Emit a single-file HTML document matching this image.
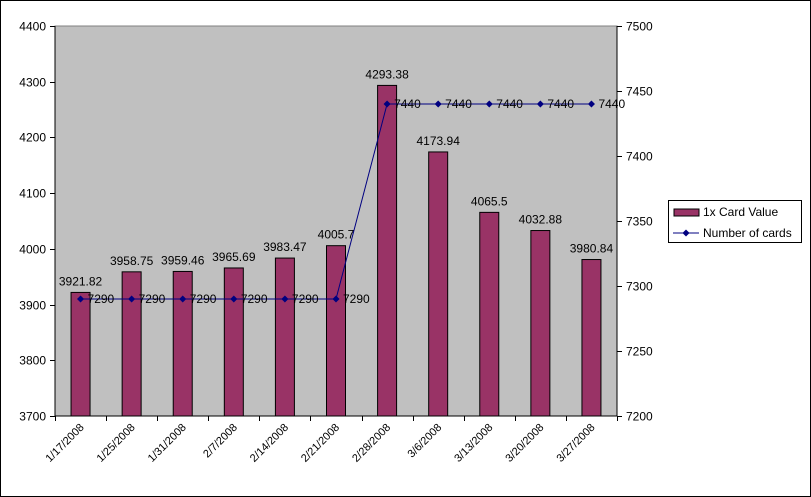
<!DOCTYPE html>
<html><head><meta charset="utf-8"><style>
html,body{margin:0;padding:0;background:#fff}
svg{display:block;font-family:"Liberation Sans",Arial,sans-serif}
</style></head><body>
<svg id="chart" width="811" height="497" viewBox="0 0 811 497" xmlns="http://www.w3.org/2000/svg">
<rect x="0.5" y="0.5" width="810" height="496" fill="#fff" stroke="#000"/>
<rect x="55" y="26" width="562" height="390" fill="#c0c0c0" stroke="#808080"/>
<g id="marks"></g>
<g>
<rect x="668.5" y="200.5" width="133" height="42" fill="#fff" stroke="#000"/>
<rect x="674" y="209" width="25" height="7" fill="#993366" stroke="#000"/>
<text x="703" y="216" font-size="12">1x Card Value</text>
<line x1="673" y1="233" x2="699" y2="233" stroke="#000080"/>
<rect x="683.5" y="230.5" width="5" height="5" fill="#000080" transform="rotate(45 686 233)"/>
<text x="703" y="237" font-size="12">Number of cards</text>
</g>
</svg>
<script>
const categories=["1/17/2008","1/25/2008","1/31/2008","2/7/2008","2/14/2008","2/21/2008","2/28/2008","3/6/2008","3/13/2008","3/20/2008","3/27/2008"];
const cardValues=[3921.82,3958.75,3959.46,3965.69,3983.47,4005.7,4293.38,4173.94,4065.5,4032.88,3980.84];
const cardLabels=["3921.82","3958.75","3959.46","3965.69","3983.47","4005.7","4293.38","4173.94","4065.5","4032.88","3980.84"];
const cardCounts=[7290,7290,7290,7290,7290,7290,7440,7440,7440,7440,7440];
const leftTicks=[3700,3800,3900,4000,4100,4200,4300,4400];
const rightTicks=[7200,7250,7300,7350,7400,7450,7500];
const X0=55,X1=617,YT=26,YB=416;
const step=(X1-X0)/categories.length;
const xc=i=>X0+step*(i+0.5);
const yL=v=>YB-(v-3700)/(4400-3700)*(YB-YT);
const yR=v=>YB-(v-7200)/(7500-7200)*(YB-YT);
const NS="http://www.w3.org/2000/svg";
const g=document.getElementById('marks');
function mk(t,a,txt){const e=document.createElementNS(NS,t);for(const k in a)e.setAttribute(k,a[k]);if(txt!==undefined)e.textContent=txt;g.appendChild(e);return e;}
// axes
let e=mk('line',{x1:X0,y1:YT,x2:X0,y2:YB,stroke:'#000'});


e=mk('line',{x1:X1,y1:YT,x2:X1,y2:YB,stroke:'#000'});


e=mk('line',{x1:X0,y1:YB,x2:X1,y2:YB,stroke:'#000'});


leftTicks.forEach(v=>{const y=Math.round(yL(v))+0.5;mk('line',{x1:X0-5,y1:y,x2:X0,y2:y,stroke:'#000'});
e=mk('text',{x:X0-9,y:y+4,'font-size':12,'text-anchor':'end'},String(v));

});
rightTicks.forEach(v=>{const y=Math.round(yR(v))+0.5;mk('line',{x1:X1,y1:y,x2:X1+5,y2:y,stroke:'#000'});
e=mk('text',{x:X1+9,y:y+4,'font-size':12},String(v));

});
for(let i=0;i<=categories.length;i++){const x=Math.round(X0+step*i)+0.5;mk('line',{x1:x,y1:YB,x2:x,y2:YB+5,stroke:'#000'});}
// bars
categories.forEach((c,i)=>{const y=yL(cardValues[i]);
e=mk('rect',{x:xc(i)-9.5,y:y,width:19,height:YB-y,fill:'#993366',stroke:'#000'});


e=mk('text',{x:xc(i),y:y-7,'font-size':12,'text-anchor':'middle'},cardLabels[i]);


e=mk('text',{x:xc(i)+4,y:YB+12,'font-size':11,'text-anchor':'end',transform:`rotate(-45 ${xc(i)+4} ${YB+12})`},c);

});
// line
e=mk('polyline',{points:cardCounts.map((v,i)=>xc(i)+','+yR(v)).join(' '),fill:'none',stroke:'#000080','stroke-width':1});


cardCounts.forEach((v,i)=>{const x=xc(i),y=yR(v);
e=mk('rect',{x:x-2.5,y:y-2.5,width:5,height:5,fill:'#000080',transform:`rotate(45 ${x} ${y})`});


e=mk('text',{x:x+7,y:y+4,'font-size':12},String(v));

});
</script>
</body></html>
